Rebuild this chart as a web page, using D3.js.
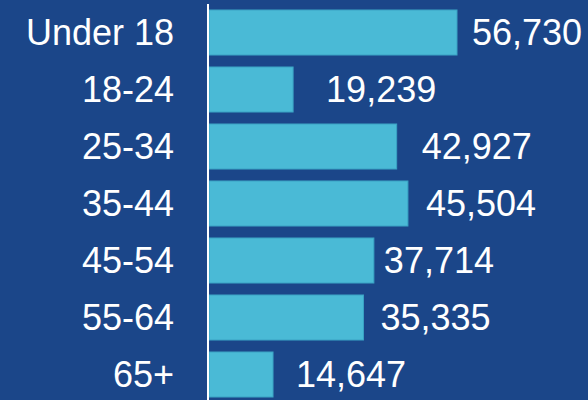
<!DOCTYPE html>
<html>
<head>
<meta charset="utf-8">
<script src="https://cdn.jsdelivr.net/npm/d3@7"></script>
<style>
  html, body { margin: 0; padding: 0; background: #1b4689; }
  svg { display: block; }
</style>
</head>
<body>
<div id="chart"></div>
<script>
// Population by age group
const ageGroups = ["Under 18", "18-24", "25-34", "35-44", "45-54", "55-64", "65+"];
const population = [56730, 19239, 42927, 45504, 37714, 35335, 14647];

// the value labels in the original sit a little irregularly right of each bar
const labelNudge = [15, 33, 25, 18, 10, 17, 23];

const width = 588, height = 400;
const axisX = 208;

const svg = d3.select("#chart").append("svg")
    .attr("width", width)
    .attr("height", height);

svg.append("rect")
    .attr("width", width)
    .attr("height", height)
    .attr("fill", "#1b4689");

// Scales
const x = d3.scaleLinear()
    .domain([0, 56730])
    .range([axisX + 1, 457]);

const y = d3.scaleBand()
    .domain(ageGroups)
    .range([4, 403])
    .paddingInner(0.21)
    .paddingOuter(0.105);

const rows = ageGroups.map((g, i) => ({ group: g, value: population[i], nudge: labelNudge[i] }));

// Bars
svg.selectAll("rect.bar")
    .data(rows)
    .join("rect")
    .attr("class", "bar")
    .attr("x", x(0))
    .attr("y", d => y(d.group))
    .attr("width", d => x(d.value) - x(0))
    .attr("height", y.bandwidth())
    .attr("fill", "#4abad6")
    .attr("stroke", "#3aa3c4")
    .attr("stroke-width", 1);

// Vertical axis line
svg.append("line")
    .attr("x1", axisX)
    .attr("x2", axisX)
    .attr("y1", 4)
    .attr("y2", height)
    .attr("stroke", "#ffffff")
    .attr("stroke-width", 2);

// Category labels
svg.selectAll("text.cat")
    .data(rows)
    .join("text")
    .attr("class", "cat")
    .attr("x", 174)
    .attr("y", d => y(d.group) + y.bandwidth() / 2)
    .attr("dy", "0.35em")
    .attr("text-anchor", "end")
    .attr("fill", "#ffffff")
    .style("font-family", "'Liberation Sans', Arial, sans-serif")
    .style("font-size", "36px")
    .text(d => d.group);

// Value labels
svg.selectAll("text.val")
    .data(rows)
    .join("text")
    .attr("class", "val")
    .attr("x", d => x(d.value) + d.nudge)
    .attr("y", d => y(d.group) + y.bandwidth() / 2)
    .attr("dy", "0.36em")
    .attr("fill", "#ffffff")
    .style("font-family", "'Liberation Sans', Arial, sans-serif")
    .style("font-size", "36px")
    .text(d => d3.format(",")(d.value));
</script>
</body>
</html>
